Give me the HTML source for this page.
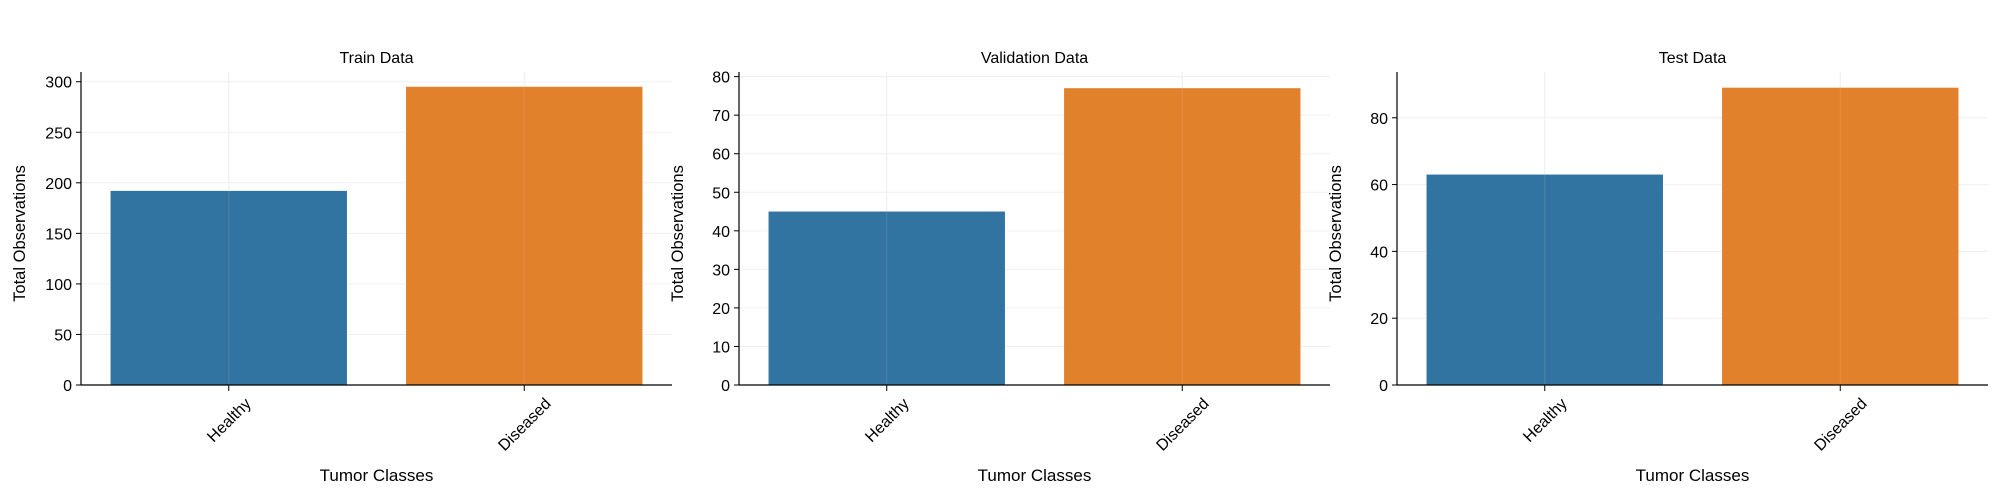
<!DOCTYPE html>
<html><head><meta charset="utf-8"><style>
html,body{margin:0;padding:0;background:#fff;}
svg{display:block;font-family:"Liberation Sans",sans-serif;}
</style></head><body>
<svg id="c" width="2000" height="500" xmlns="http://www.w3.org/2000/svg"></svg>
<script>
const categories = ["Healthy", "Diseased"];
const panelTitles = ["Train Data", "Validation Data", "Test Data"];
const trainValues = [192, 295];
const validationValues = [45, 77];
const testValues = [63, 89];
const trainTicks = [0, 50, 100, 150, 200, 250, 300];
const validationTicks = [0, 10, 20, 30, 40, 50, 60, 70, 80];
const testTicks = [0, 20, 40, 60, 80];
const yMaxes = [309.6, 81.2, 93.7];

const svg = document.getElementById('c');
const NS = 'http://www.w3.org/2000/svg';
const colors = ['#3274a1', '#e1812c'];
const lefts = [81, 739, 1397];
const W = 591, TOP = 72, BOT = 385;
function mk(tag, attrs, parent){const e=document.createElementNS(NS,tag);for(const k in attrs)e.setAttribute(k,attrs[k]);(parent||svg).appendChild(e);return e;}
const values = [trainValues, validationValues, testValues];
const ticks = [trainTicks, validationTicks, testTicks];
for(let p=0;p<3;p++){
  const L = lefts[p];
  const g = mk('g',{});
  
  
  const y = v => BOT - v/yMaxes[p]*(BOT-TOP);
  const step = W/categories.length;
  const x = i => L + step*(i+0.5);
  ticks[p].forEach(t=>{
    const ln = mk('line',{x1:L,x2:L+W,y1:y(t),y2:y(t),stroke:'#f0f0f0','stroke-width':1},g);
    
    
  });
  categories.forEach((c,i)=>{
    const ln = mk('line',{x1:x(i),x2:x(i),y1:TOP,y2:BOT,stroke:'#f0f0f0','stroke-width':1},g);
    
    
  });
  values[p].forEach((v,i)=>{
    const bw = step*0.8;
    const r = mk('rect',{x:x(i)-bw/2,y:y(v),width:bw,height:BOT-y(v),fill:colors[i]},g);
    
    
  });
  categories.forEach((c,i)=>{
    mk('line',{x1:x(i),x2:x(i),y1:TOP,y2:BOT,stroke:'rgba(235,235,235,0.12)','stroke-width':1},g);
  });
  const ya = mk('line',{x1:L,x2:L,y1:TOP,y2:BOT,stroke:'#000','stroke-width':1.2},g);
  
  
  const xa = mk('line',{x1:L,x2:L+W,y1:BOT,y2:BOT,stroke:'#000','stroke-width':1.2},g);
  
  
  ticks[p].forEach(t=>{
    mk('line',{x1:L-5,x2:L,y1:y(t),y2:y(t),stroke:'#000','stroke-width':1},g);
    const tx = mk('text',{x:L-9,y:y(t)+6,'text-anchor':'end','font-size':16,fill:'#000'},g);
    tx.textContent = t;
    
    
  });
  categories.forEach((c,i)=>{
    mk('line',{x1:x(i),x2:x(i),y1:BOT,y2:BOT+6,stroke:'#000','stroke-width':1},g);
    const tx = mk('text',{x:0,y:0,'text-anchor':'middle','font-size':16,fill:'#000'},g);
    tx.textContent = c;
    
    
    const w = tx.getComputedTextLength();
    const h = 16;
    const cy = BOT + 10 + (w + h) * 0.7071 / 2;
    tx.setAttribute('transform', `translate(${x(i)},${cy}) rotate(-45) translate(0,${h*0.35})`);
  });
  const tt = mk('text',{x:L+W/2,y:63,'text-anchor':'middle','font-size':16,fill:'#000'},g);
  tt.textContent = panelTitles[p];
  
  
  const xl = mk('text',{x:L+W/2,y:481,'text-anchor':'middle','font-size':17,fill:'#000'},g);
  xl.textContent = 'Tumor Classes';
  
  
  const yl = mk('text',{x:0,y:0,'text-anchor':'middle','font-size':16.5,fill:'#000',transform:`translate(${L-56},${(TOP+BOT)/2+5}) rotate(-90)`},g);
  yl.textContent = 'Total Observations';
  
  
}
</script>
</body></html>
